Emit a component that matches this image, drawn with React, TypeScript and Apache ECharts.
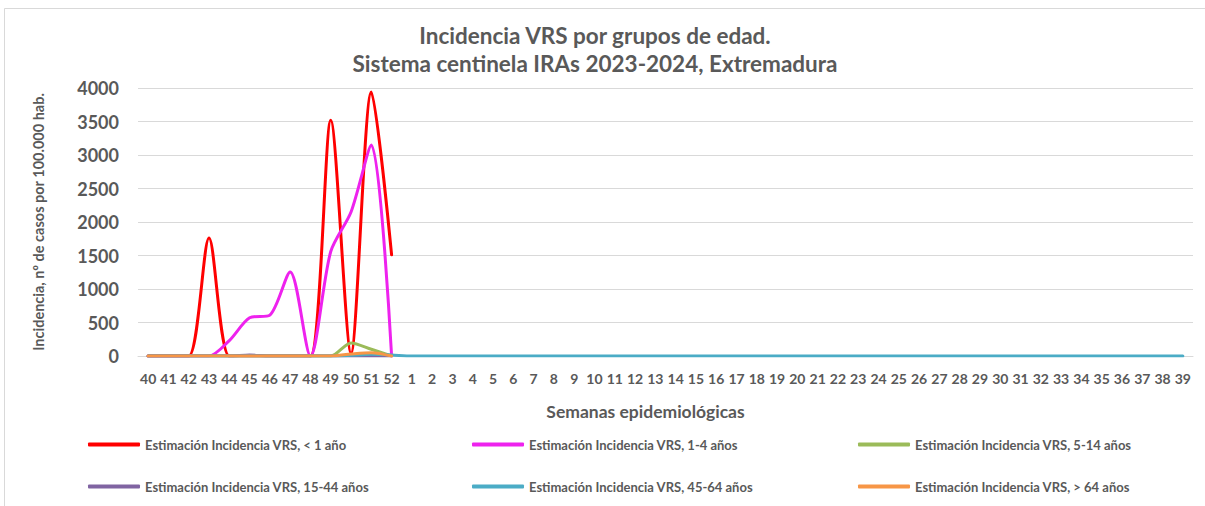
import React, { useEffect, useRef } from "react";
import * as echarts from "echarts";

const weeks = ["40","41","42","43","44","45","46","47","48","49","50","51","52","1","2","3","4","5","6","7","8","9","10","11","12","13","14","15","16","17","18","19","20","21","22","23","24","25","26","27","28","29","30","31","32","33","34","35","36","37","38","39"];

const pad = (arr: (number | null)[]) => arr.concat(new Array(52 - arr.length).fill(null));

const lt1 = pad([0, 0, 0, 1760, 0, 0, 0, 0, 0, 3520, 40, 3940, 1510]);
const a1_4 = pad([0, 0, 0, 0, 230, 570, 610, 1255, 0, 1560, 2150, 3150, 0]);
const a5_14 = pad([0, 0, 0, 0, 0, 0, 0, 0, 0, 0, 195, 100, 0]);
const a15_44 = pad([0, 0, 0, 0, 0, 15, 0, 0, 0, 0, 0, 0, 0]);
const a45_64 = [0, 0, 0, 0, 0, 0, 0, 0, 0, 0, 10, 25, 15, 0, 0, 0, 0, 0, 0, 0, 0, 0, 0, 0, 0, 0, 0, 0, 0, 0, 0, 0, 0, 0, 0, 0, 0, 0, 0, 0, 0, 0, 0, 0, 0, 0, 0, 0, 0, 0, 0, 0];
const gt64 = pad([0, 0, 0, 0, 0, 0, 0, 0, 0, 0, 30, 50, 0]);

const names = [
  "Estimación Incidencia VRS, < 1 año",
  "Estimación Incidencia VRS, 1-4 años",
  "Estimación Incidencia VRS, 5-14 años",
  "Estimación Incidencia VRS, 15-44 años",
  "Estimación Incidencia VRS, 45-64 años",
  "Estimación Incidencia VRS, > 64 años",
];
const colors = ["#ff0000", "#ee22ee", "#9bbb59", "#8064a2", "#4bacc6", "#f79646"];
const seriesData = [lt1, a1_4, a5_14, a15_44, a45_64, gt64];

const FONT = "Lato";
const TXT = "#595959";

export default function App() {
  const ref = useRef<HTMLDivElement>(null);
  useEffect(() => {
    if (!ref.current) return;
    const chart = echarts.init(ref.current, null, { renderer: "svg" });
    const legendPos = [
      [88, 438], [472, 438], [858, 438],
      [88, 480], [472, 480], [858, 480],
    ];
    chart.setOption({
      animation: false,
      textStyle: { fontFamily: FONT },
      title: {
        text: "Incidencia VRS por grupos de edad.\nSistema centinela IRAs 2023-2024, Extremadura",
        left: 590,
        textAlign: "center",
        top: 16,
        textStyle: { fontFamily: FONT, fontWeight: "bold", fontSize: 22.5, color: TXT, lineHeight: 28 },
      },
      graphic: [
        {
          type: "rect",
          shape: { x: 4.5, y: 8.5, width: 1220, height: 520 },
          style: { fill: "none", stroke: "#d9d9d9", lineWidth: 1 },
          silent: true,
        },
      ],
      legend: names.map((n, i) => ({
        data: [n],
        left: legendPos[i][0],
        top: legendPos[i][1],
        padding: 0,
        icon: "roundRect",
        itemWidth: 52,
        itemHeight: 4,
        itemGap: 4,
        textStyle: { fontFamily: FONT, fontWeight: "bold", fontSize: 13, color: TXT },
      })),
      grid: { left: 138, right: 12, top: 88, bottom: 150, containLabel: false },
      xAxis: {
        type: "category",
        data: weeks,
        boundaryGap: true,
        name: "Semanas epidemiológicas",
        nameLocation: "middle",
        nameGap: 46,
        nameTextStyle: { fontFamily: FONT, fontWeight: "bold", fontSize: 17.5, color: TXT, padding: [0, 40, 0, 0] },
        axisLine: { lineStyle: { color: "#d9d9d9", width: 1 } },
        axisTick: { show: false },
        axisLabel: { interval: 0, fontFamily: FONT, fontWeight: "bold", fontSize: 14, color: TXT, margin: 15 },
      },
      yAxis: {
        type: "value",
        min: 0,
        max: 4000,
        interval: 500,
        name: "Incidencia, nº de casos por 100.000 hab.",
        nameLocation: "middle",
        nameGap: 92,
        nameRotate: 90,
        nameTextStyle: { fontFamily: FONT, fontWeight: "bold", fontSize: 14.5, color: TXT },
        axisLine: { show: false },
        axisTick: { show: false },
        splitLine: { lineStyle: { color: "#d9d9d9", width: 1 } },
        axisLabel: { fontFamily: FONT, fontWeight: "bold", fontSize: 18, color: TXT, margin: 19, formatter: (v: number) => String(v) },
      },
      series: names.map((n, i) => ({
        name: n,
        type: "line",
        data: seriesData[i],
        smooth: 0.28,
        showSymbol: false,
        symbol: "none",
        clip: true,
        connectNulls: false,
        lineStyle: { color: colors[i], width: 3, cap: "round", join: "round" },
        itemStyle: { color: colors[i] },
      })),
    });
    return () => chart.dispose();
  }, []);
  return (
    <div
      ref={ref}
      style={{ position: "absolute", left: 0, top: 0, width: 1205, height: 506 }}
    />
  );
}
